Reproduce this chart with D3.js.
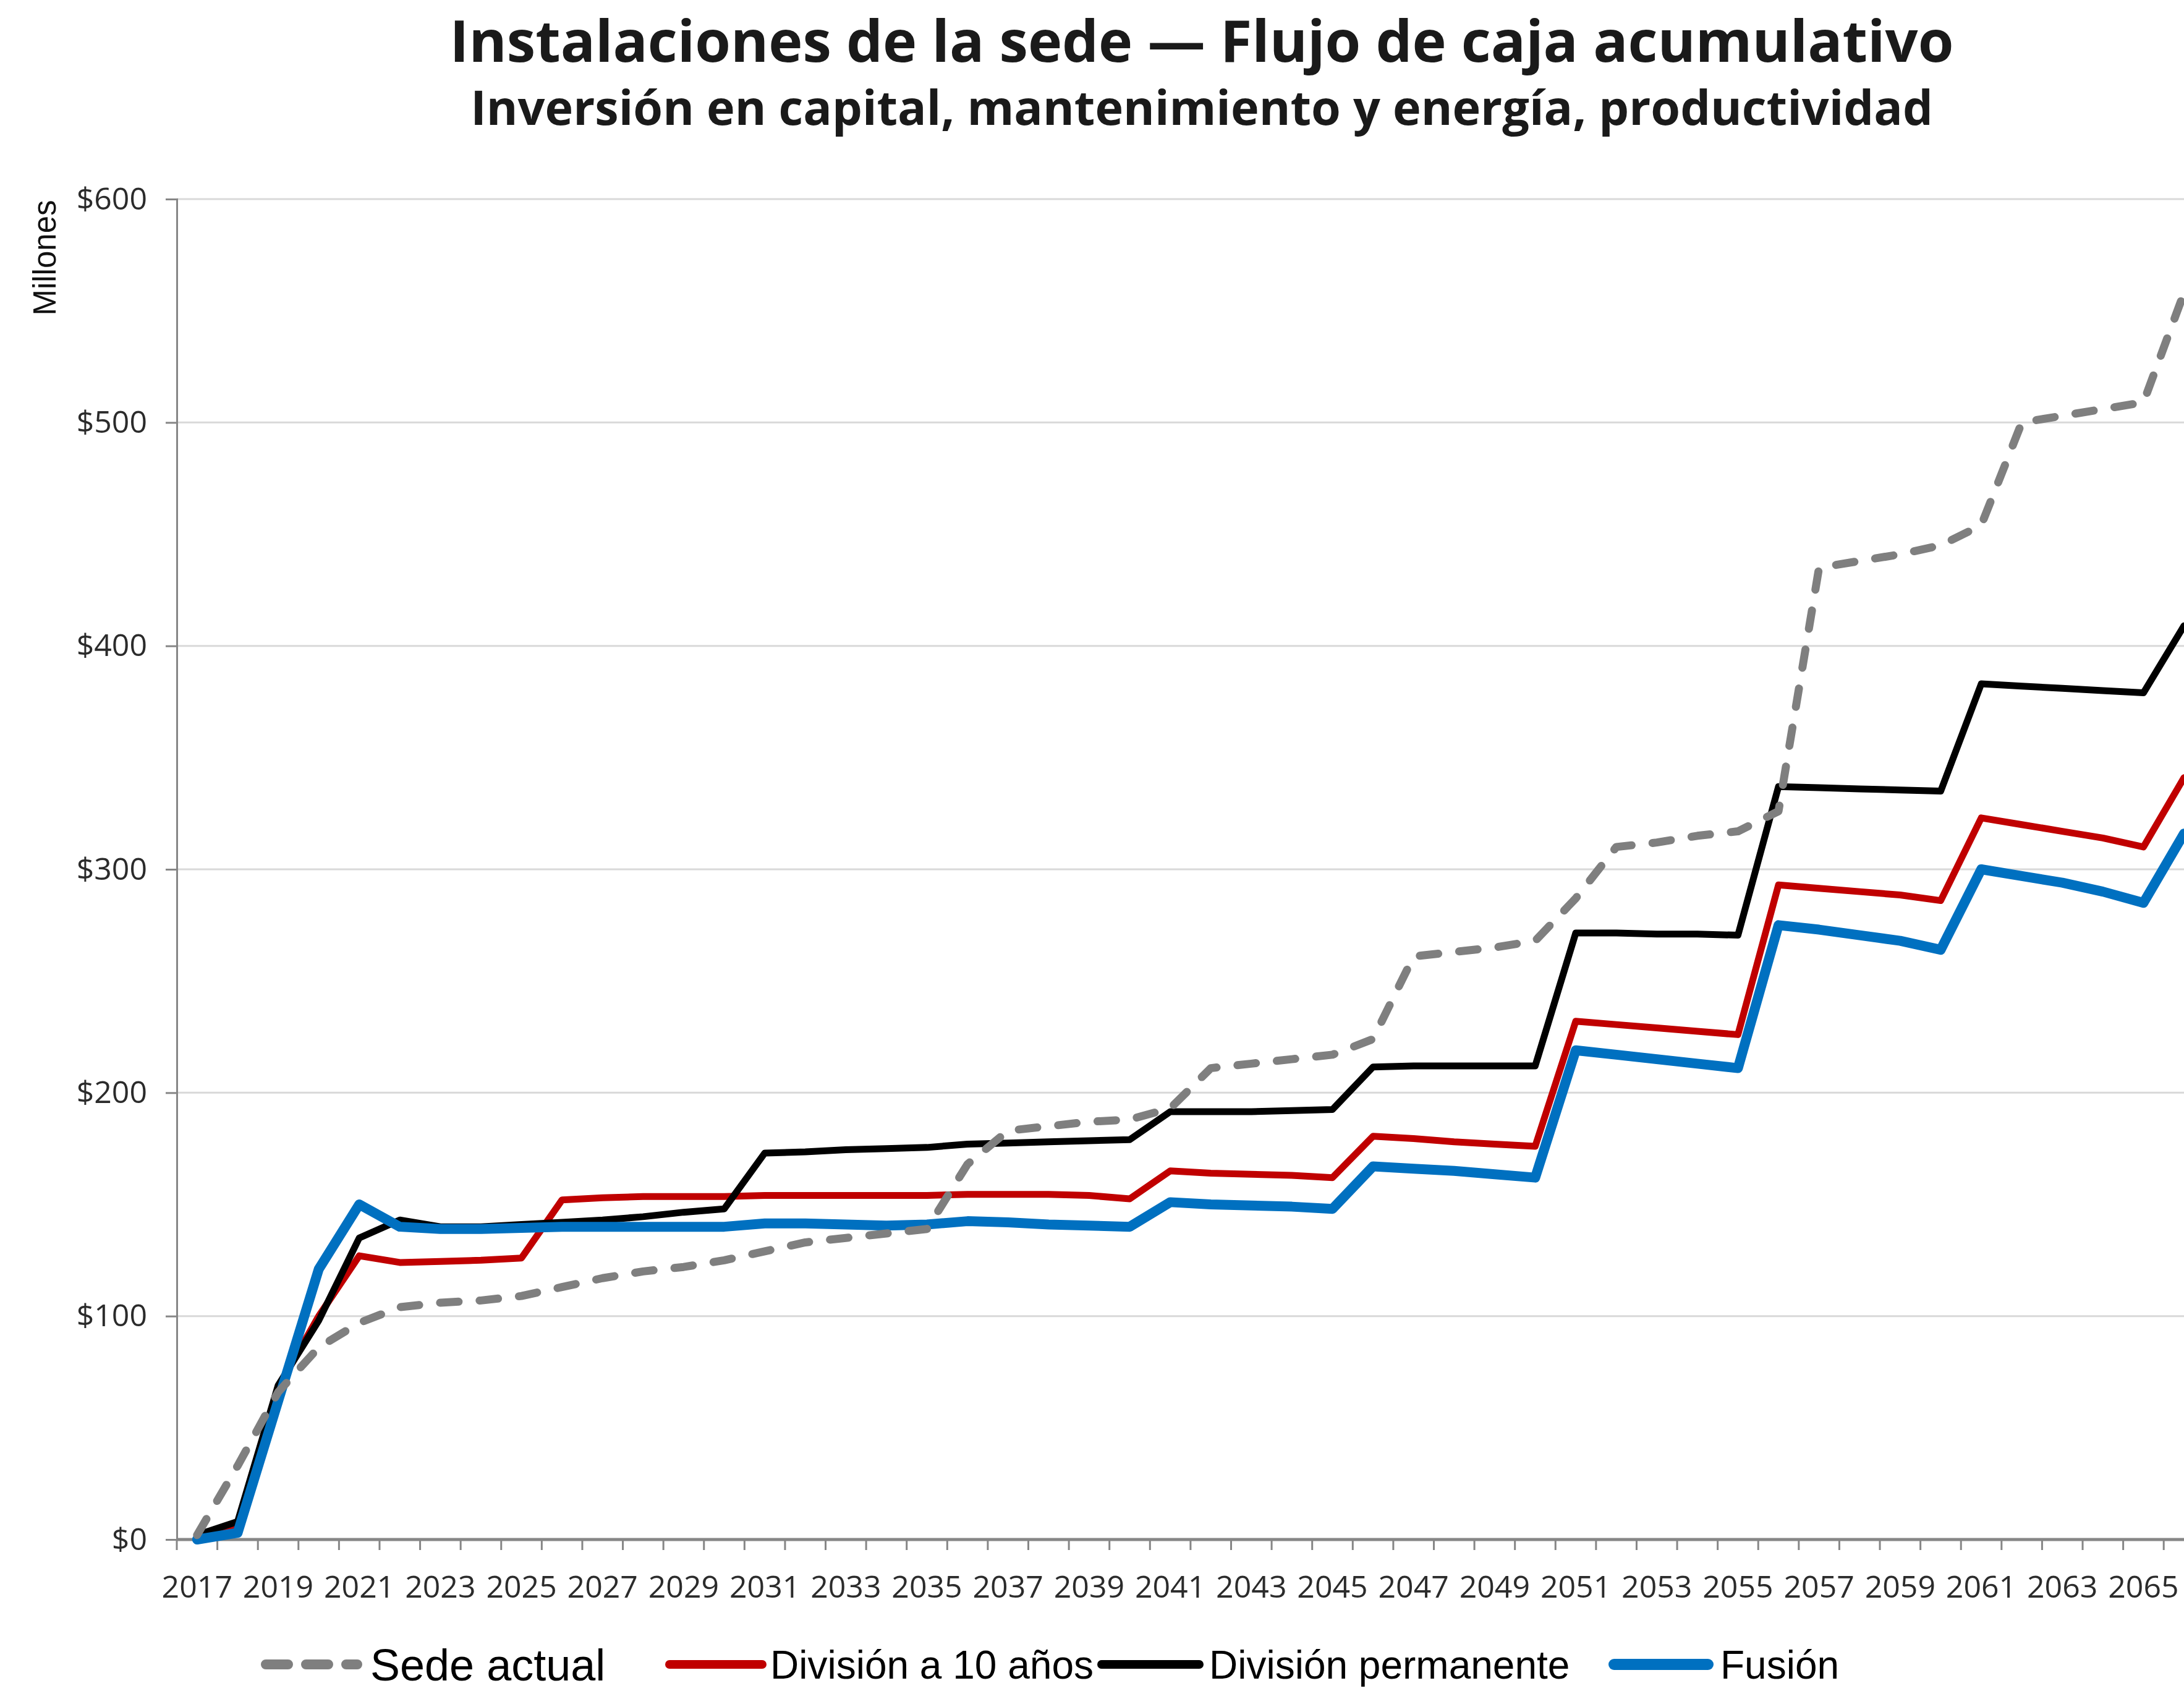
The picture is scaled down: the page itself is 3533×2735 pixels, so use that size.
<!DOCTYPE html>
<html lang="es">
<head>
<meta charset="utf-8">
<title>Instalaciones de la sede — Flujo de caja acumulativo</title>
<script src="https://cdn.jsdelivr.net/npm/d3@7"></script>
<style>
  body { margin: 0; background: #fff; }
  svg { display: block; }
</style>
</head>
<body>
<div id="chart"></div>
<script>
// categories
const years = [2017, 2018, 2019, 2020, 2021, 2022, 2023, 2024, 2025, 2026,
  2027, 2028, 2029, 2030, 2031, 2032, 2033, 2034, 2035, 2036,
  2037, 2038, 2039, 2040, 2041, 2042, 2043, 2044, 2045, 2046,
  2047, 2048, 2049, 2050, 2051, 2052, 2053, 2054, 2055, 2056,
  2057, 2058, 2059, 2060, 2061, 2062, 2063, 2064, 2065, 2066];

// series values (millones de $)
const sedeActual = [2, 33, 66, 86, 97, 104, 106, 107, 109, 113,
  117, 120, 122, 125, 129, 133, 135, 137, 139, 168,
  183, 185, 187, 188, 193, 211, 213, 215, 217, 224,
  261, 263, 265, 268, 287, 310, 312, 315, 317, 326,
  435, 438, 441, 445, 454, 500, 503, 506, 509, 558];

const division10 = [0, 6, 68, 100, 127, 124, 124.5, 125, 126, 152,
  153, 153.5, 153.5, 153.5, 154, 154, 154, 154, 154, 154.5,
  154.5, 154.5, 154, 152.5, 165, 164, 163.5, 163, 162, 180.5,
  179.5, 178, 177, 176, 232, 230.5, 229, 227.5, 226, 293,
  291.5, 290, 288.5, 286, 323, 320, 317, 314, 310, 341];

const divisionPerm = [2, 8, 69, 98, 135, 143, 140, 140, 141, 142,
  143, 144.5, 146.5, 148, 173, 173.5, 174.5, 175, 175.5, 177,
  177.5, 178, 178.5, 179, 191.5, 191.5, 191.5, 192, 192.5, 211.5,
  212, 212, 212, 212, 271.5, 271.5, 271, 271, 270.5, 337,
  336.5, 336, 335.5, 335, 383, 382, 381, 380, 379, 409];

const fusion = [0, 3, 62, 121, 150, 140, 139, 139, 139.5, 140,
  140, 140, 140, 140, 141.5, 141.5, 141, 140.5, 141, 142.5,
  142, 141, 140.5, 140, 151, 150, 149.5, 149, 148, 167,
  166, 165, 163.5, 162, 219, 217, 215, 213, 211, 275,
  273, 270.5, 268, 264, 300, 297, 294, 290, 285, 316];

// tick labels
const yTicks = [0, 100, 200, 300, 400, 500, 600];
const xTickLabels = [2017, 2019, 2021, 2023, 2025, 2027, 2029, 2031, 2033, 2035,
  2037, 2039, 2041, 2043, 2045, 2047, 2049, 2051, 2053, 2055,
  2057, 2059, 2061, 2063, 2065];

const seriesNames = ["Sede actual", "División a 10 años", "División permanente", "Fusión"];

function drawChart(){

  const width = 3533, height = 2735;
  const margin = {top: 322, left: 286, bottom: 245};
  const axisColor = "#868686";

  const svg = d3.select("#chart")
    .append("svg")
    .attr("width", width)
    .attr("height", height)
    .style("background", "#fff");

  // band scale, the last year sits on the right edge of the picture
  const bw = (width - margin.left) / (years.length - 0.5);
  const xScale = d3.scaleBand()
    .domain(years)
    .range([margin.left, margin.left + bw * years.length])
    .padding(0);

  const yScale = d3.scaleLinear()
    .domain([0, 600])
    .range([height - margin.bottom, margin.top]);

  const xc = (yr) => xScale(yr) + xScale.bandwidth() / 2;

  //gridlines
  svg.append("g")
    .selectAll("line")
    .data(yTicks.filter(d => d > 0))
    .enter()
    .append("line")
    .attr("x1", margin.left)
    .attr("x2", width)
    .attr("y1", d => yScale(d))
    .attr("y2", d => yScale(d))
    .attr("stroke", "#d9d9d9")
    .attr("stroke-width", 3);

  //y axis
  const yAxis = d3.axisLeft(yScale)
    .tickValues(yTicks)
    .tickSize(18)
    .tickPadding(30)
    .tickFormat(d => "$" + d);

  const gy = svg.append("g")
    .attr("class", "axis y_axis")
    .attr("transform", `translate(${margin.left},0)`)
    .call(yAxis);

  gy.select(".domain").attr("stroke", axisColor).attr("stroke-width", 3);
  gy.selectAll(".tick line").attr("stroke", axisColor).attr("stroke-width", 3);
  gy.selectAll(".tick text")
    .attr("font-family", "'Open Sans', sans-serif")
    .attr("font-size", 50)
    .attr("fill", "#2b2b2b");

  //x axis: ticks between years, labels on odd years
  const xBase = yScale(0);
  const gx = svg.append("g").attr("class", "axis x_axis");

  gx.selectAll("line.xt")
    .data(years)
    .enter()
    .append("line")
    .attr("class", "xt")
    .attr("x1", d => xScale(d))
    .attr("x2", d => xScale(d))
    .attr("y1", xBase)
    .attr("y2", xBase + 17)
    .attr("stroke", axisColor)
    .attr("stroke-width", 3);

  gx.append("line")
    .attr("x1", margin.left)
    .attr("x2", width)
    .attr("y1", xBase)
    .attr("y2", xBase)
    .attr("stroke", axisColor)
    .attr("stroke-width", 5);

  gx.selectAll("text")
    .data(xTickLabels)
    .enter()
    .append("text")
    .attr("x", d => xc(d))
    .attr("y", xBase + 94)
    .attr("text-anchor", "middle")
    .attr("font-family", "'Open Sans', sans-serif")
    .attr("font-size", 50)
    .attr("fill", "#2b2b2b")
    .text(d => d);

  //y axis title
  svg.append("text")
    .attr("transform", "translate(90,417) rotate(-90)")
    .attr("text-anchor", "middle")
    .attr("font-family", "'Liberation Sans', Arial, sans-serif")
    .attr("font-size", 51)
    .attr("fill", "#111")
    .text("Millones");

  //lines
  const styles = [
    {name: seriesNames[0], values: sedeActual, color: "#7f7f7f", w: 13, dash: "30 34"},
    {name: seriesNames[1], values: division10, color: "#c00000", w: 11, dash: null},
    {name: seriesNames[2], values: divisionPerm, color: "#000000", w: 11, dash: null},
    {name: seriesNames[3], values: fusion, color: "#0070c0", w: 16, dash: null}
  ];

  const line = d3.line()
    .x(d => xc(d.year))
    .y(d => yScale(d.v));

  const drawOrder = [1, 2, 3, 0];
  drawOrder.forEach(i => {
    const s = styles[i];
    const pts = years.map((yr, k) => ({year: yr, v: s.values[k]}));
    svg.append("path")
      .datum(pts)
      .attr("fill", "none")
      .attr("stroke", s.color)
      .attr("stroke-width", s.w)
      .attr("stroke-linejoin", "round")
      .attr("stroke-linecap", "round")
      .attr("stroke-dasharray", s.dash)
      .attr("d", line);
  });

  //titles, fitted to the width they take in the picture
  function fitText(sel, target){
    const len = sel.node().getComputedTextLength();
    const size = +sel.attr("font-size");
    sel.attr("font-size", size * target / len);
  }

  const t1 = svg.append("text")
    .attr("x", 1944)
    .attr("y", 100)
    .attr("text-anchor", "middle")
    .attr("font-family", "'Open Sans', sans-serif")
    .attr("font-weight", 700)
    .attr("font-size", 80)
    .attr("fill", "#1a1a1a")
    .text("Instalaciones de la sede — Flujo de caja acumulativo");
  fitText(t1, 2433);

  const t2 = svg.append("text")
    .attr("x", 1944)
    .attr("y", 202)
    .attr("text-anchor", "middle")
    .attr("font-family", "'Open Sans', sans-serif")
    .attr("font-weight", 700)
    .attr("font-size", 64)
    .attr("fill", "#1a1a1a")
    .text("Inversión en capital, mantenimiento y energía, productividad");
  fitText(t2, 2366);

  //legend
  const legendLayout = [
    {x0: 430, x1: 578, tx: 599, size: 72},
    {x0: 1083, x1: 1233, tx: 1246, size: 64},
    {x0: 1782, x1: 1940, tx: 1956, size: 64},
    {x0: 2611, x1: 2763, tx: 2783, size: 64}
  ];
  const legendY = 2692;

  const lg = svg.append("g").attr("class", "legend");
  styles.forEach((s, i) => {
    const L = legendLayout[i];
    lg.append("line")
      .attr("x1", L.x0)
      .attr("x2", L.x1)
      .attr("y1", legendY)
      .attr("y2", legendY)
      .attr("stroke", s.color)
      .attr("stroke-width", i === 0 ? 16 : (i === 3 ? 18 : 14))
      .attr("stroke-linecap", "round")
      .attr("stroke-dasharray", i === 0 ? "36 29" : null);
    lg.append("text")
      .attr("x", L.tx)
      .attr("y", legendY)
      .attr("dy", "0.36em")
      .attr("font-family", "'Liberation Sans', Arial, sans-serif")
      .attr("font-size", L.size)
      .attr("fill", "#000")
      .text(s.name);
  });

}

drawChart();
</script>
</body>
</html>
